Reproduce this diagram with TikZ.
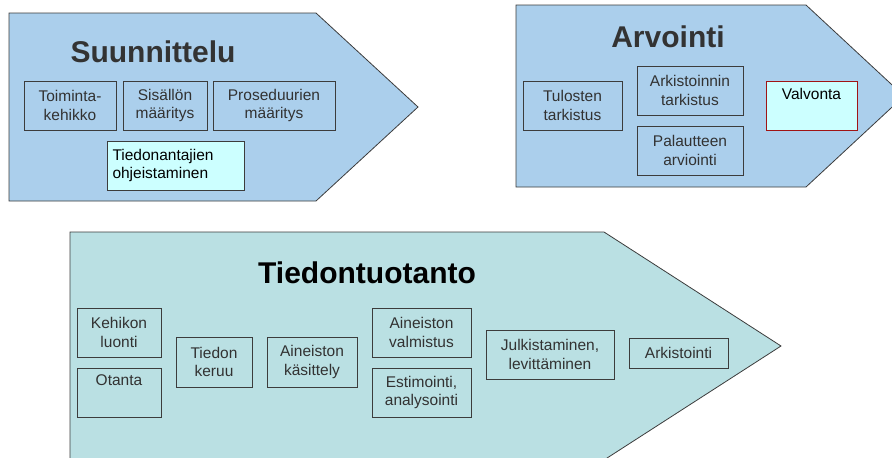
\documentclass[tikz,border=0pt]{standalone}
\usepackage{fontspec}
\setmainfont{Liberation Sans}
\definecolor{panelblue}{RGB}{171,207,236}
\definecolor{panelteal}{RGB}{186,224,227}
\definecolor{lightcyan}{RGB}{204,255,255}
\definecolor{outline}{RGB}{60,60,60}
\definecolor{boxtext}{RGB}{50,50,50}
\definecolor{titlegray}{RGB}{51,51,51}
\definecolor{redline}{RGB}{160,20,20}
\begin{document}
\begin{tikzpicture}[x=1pt,y=-1pt,
  panel/.style={draw=outline, line width=0.8pt},
  box/.style={draw=outline, line width=0.8pt, rectangle, inner sep=0pt,
    align=center, font=\fontsize{15.5}{18.5}\selectfont, text=boxtext},
  hibox/.style={box, fill=lightcyan, text=black},
  ptitle/.style={font=\fontsize{30}{36}\selectfont\bfseries, text=titlegray}]
\useasboundingbox (0,0) rectangle (892,458);
\clip (0,0) rectangle (892,458);

% panels
\path[panel, fill=panelblue] (9,13) -- (316,13) -- (418,107) -- (316,201) -- (9,201) -- cycle;
\path[panel, fill=panelblue] (516,5) -- (806,5) -- (904,96) -- (806,187) -- (516,187) -- cycle;
\path[panel, fill=panelteal] (70,232) -- (604,232) -- (781,346) -- (604,460) -- (70,460) -- cycle;

% Suunnittelu
\node[ptitle] (t1) at (153,52) {Suunnittelu};
\node[box, minimum width=92pt, minimum height=49pt] (toim) at (70,105.5) {Toiminta-\\kehikko};
\node[box, minimum width=84pt, minimum height=49pt] (sis) at (165,105.5) {Sisällön\\määritys};
\node[box, minimum width=122pt, minimum height=49pt] (pros) at (274,105.5) {Proseduurien\\määritys};
\node[hibox, align=left, minimum width=137pt, minimum height=49pt, text width=126pt] (tied) at (175.5,165.5) {Tiedonantajien\\ohjeistaminen};

% Arvointi
\node[ptitle] (t2) at (668,37) {Arvointi};
\node[box, minimum width=99pt, minimum height=49pt] (tul) at (572.5,105.5) {Tulosten\\tarkistus};
\node[box, minimum width=106pt, minimum height=49pt] (ark) at (690,90.5) {Arkistoinnin\\tarkistus};
\node[box, minimum width=106pt, minimum height=49pt] (pal) at (690,150.5) {Palautteen\\arviointi};
\node[hibox, draw=redline, minimum width=91pt, minimum height=49pt] (valv) at (811.5,105.5) {Valvonta\\\strut};

% Tiedontuotanto
\node[ptitle, text=black] (t3) at (367,273) {Tiedontuotanto};
\node[box, minimum width=84pt, minimum height=49pt] (keh) at (119,332.5) {Kehikon\\luonti};
\node[box, minimum width=84pt, minimum height=49pt] (ota) at (119,392.5) {Otanta\\\strut};
\node[box, minimum width=76pt, minimum height=50pt] (ker) at (214,362) {Tiedon\\keruu};
\node[box, minimum width=90pt, minimum height=50pt] (kas) at (312,362) {Aineiston\\käsittely};
\node[box, minimum width=99pt, minimum height=49pt] (valm) at (421.5,332.5) {Aineiston\\valmistus};
\node[box, minimum width=99pt, minimum height=49pt] (est) at (421.5,392.5) {Estimointi,\\analysointi};
\node[box, minimum width=128pt, minimum height=49pt] (julk) at (550,354.5) {Julkistaminen,\\levittäminen};
\node[box, minimum width=99pt, minimum height=30pt] (arks) at (678.5,353) {Arkistointi};
\end{tikzpicture}
\end{document}
